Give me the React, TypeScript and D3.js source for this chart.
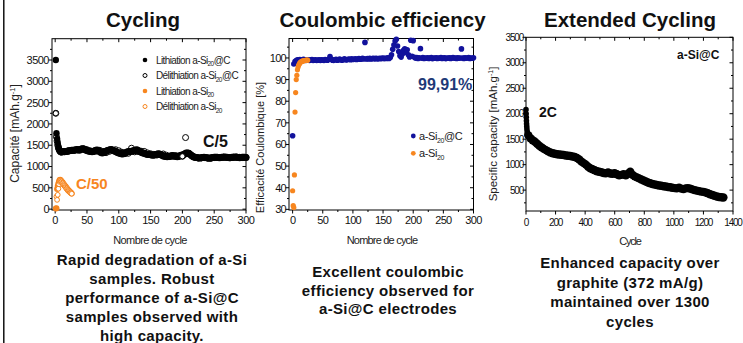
import React from 'react';
import * as d3 from 'd3';

const FONT = '"Liberation Sans", Arial, Helvetica, sans-serif';
const ORANGE = '#f7861f';
const BLUE = '#12129c';
const NAVY = '#1f3a78';

// ---- Cycling (left panel) ----
const headCycles = [1, 2, 3, 4, 5, 6, 7, 8, 9, 10];
const lithSiCHead = [3500, 1780, 1650, 1550, 1470, 1420, 1380, 1360, 1350, 1345];
// cycles 12..300, every 2 cycles
const lithSiCTail = [
  1345, 1350, 1355, 1350, 1360, 1370, 1375, 1380, 1385, 1380,
  1390, 1400, 1395, 1385, 1400, 1415, 1420, 1405, 1390, 1375,
  1365, 1360, 1350, 1345, 1355, 1370, 1385, 1390, 1370, 1350,
  1330, 1320, 1330, 1345, 1360, 1375, 1385, 1395, 1400, 1390,
  1375, 1360, 1345, 1330, 1320, 1310, 1300, 1295, 1305, 1320,
  1335, 1345, 1350, 1355, 1360, 1365, 1375, 1385, 1395, 1380,
  1360, 1345, 1330, 1320, 1310, 1300, 1290, 1285, 1280, 1275,
  1270, 1265, 1270, 1280, 1290, 1300, 1295, 1280, 1265, 1250,
  1240, 1235, 1230, 1235, 1240, 1250, 1260, 1255, 1245, 1235,
  1230, 1240, 1255, 1265, 1270, 1280, 1300, 1315, 1320, 1310,
  1290, 1265, 1240, 1225, 1215, 1210, 1205, 1200, 1200, 1205,
  1210, 1215, 1210, 1205, 1200, 1195, 1200, 1205, 1210, 1215,
  1220, 1215, 1210, 1205, 1210, 1215, 1220, 1225, 1220, 1215,
  1210, 1205, 1210, 1215, 1220, 1225, 1220, 1215, 1210, 1205,
  1210, 1215, 1220, 1215, 1210,
];
const delithSiCHead = [2250, 1700, 1600, 1500, 1440, 1400, 1370, 1350, 1340, 1335];
// cycles 15..300, every 5 cycles
const delithSiCTail = [
  1345, 1370, 1375, 1385, 1395, 1400, 1410, 1395, 1370, 1355,
  1360, 1380, 1355, 1325, 1355, 1380, 1395, 1370, 1335, 1305,
  1310, 1430, 1345, 1355, 1360, 1355, 1320, 1300, 1285, 1270,
  1280, 1295, 1265, 1235, 1240, 1255, 1240, 1240, 1680, 1310,
  1250, 1215, 1200, 1205, 1210, 1200, 1195, 1210, 1215, 1210,
  1220, 1215, 1205, 1215, 1225, 1215, 1210, 1215,
];
const lithSiCycles = d3.range(1, 27);
const lithSi = [15, 20, 470, 545, 600, 648, 682, 690, 672, 655, 632, 618, 590, 572, 556, 530, 518, 492, 476, 452, 441, 420, 412, 393, 382, 368];
const delithSiCycles = d3.range(2, 27);
const delithSi = [296, 218, 336, 480, 585, 640, 668, 660, 645, 622, 605, 582, 560, 545, 522, 505, 485, 465, 448, 430, 415, 402, 388, 375, 362];

const legend1 = [
  { pre: 'Lithiation a-Si', sub: '20', post: '@C', color: '#000', filled: true },
  { pre: 'Délithiation a-Si', sub: '20', post: '@C', color: '#000', filled: false },
  { pre: 'Lithiation a-Si', sub: '20', post: '', color: ORANGE, filled: true },
  { pre: 'Délithiation a-Si', sub: '20', post: '', color: ORANGE, filled: false },
];

// ---- Coulombic efficiency (middle panel) ----
// cycles 0..300, every 2 cycles
const ceSiC = [
  64,
  97.2, 98.3, 98.8, 99.2, 99.0, 99.3, 98.9, 99.1, 99.4, 99.0,
  98.9, 99.2, 99.0, 98.8, 99.1, 99.3, 98.9, 99.0, 99.2, 98.8,
  99.0, 99.1, 98.9, 99.2, 99.0, 98.9, 99.3, 99.1, 99.0, 99.4,
  100.6, 99.5, 99.0, 98.9, 99.2, 99.4, 99.0, 99.1, 99.5, 99.2,
  99.0, 99.3, 99.6, 99.2, 99.1, 99.4, 99.5, 99.2, 99.6, 99.3,
  99.4, 99.6, 99.3, 99.5, 99.7, 99.4, 99.5, 99.8, 99.6, 107.2,
  99.5, 99.7, 99.6, 99.8, 99.5, 99.7, 99.9, 99.6, 99.8, 99.7,
  99.6, 99.9, 99.7, 99.8, 100.0, 99.7, 99.9, 99.8, 100.1, 99.8,
  100.2, 101.5, 104.0, 106.0, 107.8, 108.6, 105.5, 103.0, 101.0, 100.4,
  101.8, 103.5, 104.2, 102.6, 103.8, 101.5, 100.5, 108.2, 100.8, 108.0,
  100.3, 99.9, 100.2, 99.8, 100.1, 104.3, 99.9, 100.2, 99.8, 100.0,
  99.9, 100.1, 99.8, 100.0, 100.2, 99.7, 100.0, 99.9, 100.1, 99.8,
  100.0, 99.9, 100.2, 99.8, 100.0, 100.1, 99.7, 100.0, 99.9, 100.1,
  99.8, 100.0, 100.2, 99.9, 100.0, 99.8, 100.1, 99.9, 100.0, 104.2,
  100.0, 99.8, 100.1, 99.9, 100.0, 100.2, 99.8, 100.0, 99.9, 100.1,
];
const ceSiCycles = d3.range(0, 26);
const ceSi = [38.6, 31.7, 30.8, 45.9, 75, 84, 90, 92, 94.5, 95.8, 96.6, 97.2, 97.7, 98, 98.2, 98.4, 98.5, 98.6, 98.7, 98.8, 98.8, 98.9, 98.9, 99, 99, 99];

// ---- Extended cycling (right panel) ----
const extHeadCycles = [0, 1, 2, 3, 4, 5, 6, 8, 10, 12];
const extHead = [2080, 2000, 1930, 1860, 1800, 1750, 1700, 1650, 1610, 1590];
// cycles 15..1335, every 15 cycles
const extTail = [
  1580, 1520, 1480, 1450, 1410, 1370, 1340, 1310, 1285, 1260,
  1240, 1225, 1215, 1205, 1200, 1195, 1190, 1180, 1175, 1170,
  1160, 1150, 1130, 1100, 1060, 1030, 1000, 960, 930, 910,
  890, 870, 860, 850, 835, 830, 845, 825, 820, 830,
  810, 790, 800, 810, 790, 820, 860, 800, 770, 750,
  730, 710, 690, 670, 650, 635, 620, 610, 600, 590,
  585, 575, 570, 560, 555, 545, 540, 535, 545, 530,
  520, 535, 540, 530, 515, 500, 490, 480, 470, 465,
  455, 440, 420, 405, 390, 375, 365, 360, 355,
];

const captions = [
  ['Rapid degradation of a-Si', 'samples. Robust', 'performance of a-Si@C', 'samples observed with', 'high capacity.'],
  ['Excellent coulombic', 'efficiency observed for', 'a-Si@C electrodes'],
  ['Enhanced capacity over', 'graphite (372 mA/g)', 'maintained over 1300', 'cycles'],
];

type Lin = d3.ScaleLinear<number, number>;

function Axes(props: {
  x: Lin; y: Lin; xTicks: number[]; xMinor: number[]; yTicks: number[]; yMinor: number[];
  fs: number; ls: number; xDy: number;
}) {
  const { x, y, xTicks, xMinor, yTicks, yMinor, fs, ls, xDy } = props;
  const [l, r] = x.range();
  const [b, t] = y.range();
  return (
    <g stroke="#000" strokeWidth={1}>
      <rect x={l} y={t} width={r - l} height={b - t} fill="none" />
      {xMinor.map(v => (
        <g key={'xm' + v}>
          <line x1={x(v)} x2={x(v)} y1={b} y2={b + 2} />
          <line x1={x(v)} x2={x(v)} y1={t} y2={t + 2} />
        </g>
      ))}
      {yMinor.map(v => (
        <g key={'ym' + v}>
          <line x1={l - 2} x2={l} y1={y(v)} y2={y(v)} />
          <line x1={r - 2} x2={r} y1={y(v)} y2={y(v)} />
        </g>
      ))}
      {xTicks.map(v => (
        <g key={'xt' + v}>
          <line x1={x(v)} x2={x(v)} y1={b} y2={b + 3.5} />
          <line x1={x(v)} x2={x(v)} y1={t} y2={t + 3.5} />
          <text x={x(v)} y={b + xDy} textAnchor="middle" fontSize={fs} letterSpacing={ls} stroke="none" fill="#111">{v}</text>
        </g>
      ))}
      {yTicks.map(v => (
        <g key={'yt' + v}>
          <line x1={l - 3.5} x2={l} y1={y(v)} y2={y(v)} />
          <line x1={r - 3.5} x2={r} y1={y(v)} y2={y(v)} />
          <text x={l - 3} y={y(v)} dy="0.36em" textAnchor="end" fontSize={fs} letterSpacing={ls} stroke="none" fill="#111">{v}</text>
        </g>
      ))}
    </g>
  );
}

function Caption({ lines, cx, y0, step }: { lines: string[]; cx: number; y0: number; step: number }) {
  return (
    <text textAnchor="middle" fontSize={15} fontWeight="bold" letterSpacing={0.35} fill="#111">
      {lines.map((s, i) => (
        <tspan key={i} x={cx} y={y0 + i * step}>{s}</tspan>
      ))}
    </text>
  );
}

function CyclingPanel() {
  const x = d3.scaleLinear().domain([-5, 300]).range([52, 246]);
  const y = d3.scaleLinear().domain([-20, 4000]).range([210, 38.7]);
  const tailCycles = d3.range(12, 301, 2);
  const delTailCycles = d3.range(15, 301, 5);
  return (
    <g>
      <text x={143} y={27} textAnchor="middle" fontSize={20.5} fontWeight="bold" fill="#111">Cycling</text>
      <Axes x={x} y={y} xTicks={d3.range(0, 301, 50)} xMinor={d3.range(25, 300, 50)}
        yTicks={d3.range(0, 3501, 500)} yMinor={d3.range(250, 3900, 500)} fs={11} ls={-0.5} xDy={14} />
      {delithSiCTail.map((v, i) => (
        <circle key={'dt' + i} cx={x(delTailCycles[i])} cy={y(v)} r={3} fill="#fff" stroke="#000" strokeWidth={1} />
      ))}
      {delithSiCHead.map((v, i) => (
        <circle key={'dh' + i} cx={x(headCycles[i])} cy={y(v)} r={3} fill="#fff" stroke="#000" strokeWidth={1} />
      ))}
      {lithSiCTail.map((v, i) => (
        <circle key={'lt' + i} cx={x(tailCycles[i])} cy={y(v)} r={3.5} fill="#000" />
      ))}
      {lithSiCHead.map((v, i) => (
        <circle key={'lh' + i} cx={x(headCycles[i])} cy={y(v)} r={3.2} fill="#000" />
      ))}
      {lithSi.map((v, i) => (
        <circle key={'ls' + i} cx={x(lithSiCycles[i])} cy={y(v)} r={3} fill={ORANGE} />
      ))}
      {delithSi.map((v, i) => (
        <circle key={'ds' + i} cx={x(delithSiCycles[i])} cy={y(v)} r={2.4} fill="#fff" stroke={ORANGE} strokeWidth={1} />
      ))}
      {/* delith outliers drawn on top */}
      <circle cx={x(headCycles[0])} cy={y(delithSiCHead[0])} r={2.6} fill="#fff" stroke="#000" strokeWidth={1} />
      <circle cx={x(delTailCycles[37])} cy={y(delithSiCTail[37])} r={2.6} fill="#fff" stroke="#000" strokeWidth={1} />
      {legend1.map((d, i) => (
        <g key={'lg' + i}>
          {d.filled
            ? <circle cx={145} cy={60 + i * 15.5} r={2.3} fill={d.color} />
            : <circle cx={145} cy={60 + i * 15.5} r={2} fill="#fff" stroke={d.color} strokeWidth={1} />}
          <text x={156} y={63.5 + i * 15.5} fontSize={10} letterSpacing={-0.6} fill="#222">
            <tspan>{d.pre}</tspan>
            <tspan dy={2.5} fontSize={6.5}>{d.sub}</tspan>
            <tspan dy={-2.5}>{d.post}</tspan>
          </text>
        </g>
      ))}
      <text x={203} y={147} fontSize={16} fontWeight="bold" fill="#111">C/5</text>
      <text x={76} y={188.5} fontSize={15} fontWeight="bold" fill={ORANGE}>C/50</text>
      <text transform="translate(19,133.5) rotate(-90)" textAnchor="middle" fontSize={12} fill="#222">
        <tspan>Capacité [mAh.g</tspan>
        <tspan dy={-4} fontSize={7.5}>-1</tspan>
        <tspan dy={4}>]</tspan>
      </text>
      <text x={150} y={244} textAnchor="middle" fontSize={11} letterSpacing={-0.6} fill="#222">Nombre de cycle</text>
      <Caption lines={captions[0]} cx={152} y0={265} step={19.1} />
    </g>
  );
}

function CoulombPanel() {
  const x = d3.scaleLinear().domain([-6, 300]).range([289, 473.5]);
  const y = d3.scaleLinear().domain([29.7, 109]).range([210, 38.5]);
  const cyc = d3.range(0, 301, 2);
  return (
    <g>
      <text x={382.5} y={27} textAnchor="middle" fontSize={20.5} fontWeight="bold" fill="#111">Coulombic efficiency</text>
      <Axes x={x} y={y} xTicks={d3.range(0, 301, 50)} xMinor={d3.range(25, 300, 50)}
        yTicks={d3.range(30, 101, 10)} yMinor={d3.range(35, 106, 10)} fs={11} ls={-0.7} xDy={14} />
      {ceSiC.map((v, i) => (
        <circle key={'b' + i} cx={x(cyc[i])} cy={y(v)} r={2.8} fill={BLUE} />
      ))}
      {ceSi.map((v, i) => (
        <circle key={'o' + i} cx={x(ceSiCycles[i])} cy={y(v)} r={2.6} fill={ORANGE} />
      ))}
      <text x={418} y={89.5} fontSize={16} fontWeight="bold" fill={NAVY}>99,91%</text>
      <circle cx={413.3} cy={136} r={2.4} fill={BLUE} />
      <circle cx={413.3} cy={153.3} r={2.4} fill={ORANGE} />
      <text x={419} y={140} fontSize={11} letterSpacing={-0.4} fill="#222">
        <tspan>a-Si</tspan><tspan dy={2.5} fontSize={7}>20</tspan><tspan dy={-2.5}>@C</tspan>
      </text>
      <text x={419} y={157.3} fontSize={11} letterSpacing={-0.4} fill="#222">
        <tspan>a-Si</tspan><tspan dy={2.5} fontSize={7}>20</tspan>
      </text>
      <text transform="translate(264,147.5) rotate(-90)" textAnchor="middle" fontSize={11} fill="#222">Efficacité Coulombique [%]</text>
      <text x={382} y={244} textAnchor="middle" fontSize={11} letterSpacing={-0.8} fill="#222">Nombre de cycle</text>
      <Caption lines={captions[1]} cx={388} y0={277} step={18.7} />
    </g>
  );
}

function ExtendedPanel() {
  const x = d3.scaleLinear().domain([0, 1400]).range([526, 733]);
  const y = d3.scaleLinear().domain([90, 3500]).range([211, 37.3]);
  const tailCycles = d3.range(15, 1336, 15);
  return (
    <g>
      <text x={630} y={27} textAnchor="middle" fontSize={20.5} fontWeight="bold" fill="#111">Extended Cycling</text>
      <Axes x={x} y={y} xTicks={d3.range(0, 1401, 200)} xMinor={d3.range(100, 1400, 200)}
        yTicks={d3.range(500, 3501, 500)} yMinor={d3.range(250, 3400, 500)} fs={10} ls={-1.2} xDy={14.5} />
      {extTail.map((v, i) => (
        <circle key={'e' + i} cx={x(tailCycles[i])} cy={y(v)} r={4.2} fill="#000" />
      ))}
      {extHead.map((v, i) => (
        <circle key={'eh' + i} cx={x(extHeadCycles[i])} cy={y(v)} r={2.8} fill="#000" />
      ))}
      <text x={677} y={58.5} fontSize={12} fontWeight="bold" fill="#111">a-Si@C</text>
      <text x={539} y={117} fontSize={14} fontWeight="bold" fill="#111">2C</text>
      <text transform="translate(497,134) rotate(-90)" textAnchor="middle" fontSize={11.5} fill="#222">
        <tspan>Specific capacity [mAh.g</tspan>
        <tspan dy={-4} fontSize={7}>-1</tspan>
        <tspan dy={4}>]</tspan>
      </text>
      <text x={630} y={245} textAnchor="middle" fontSize={11} letterSpacing={-1.2} fill="#222">Cycle</text>
      <Caption lines={captions[2]} cx={630} y0={268} step={19.5} />
    </g>
  );
}

export default function App() {
  return (
    <svg width={743} height={343} fontFamily={FONT}
      style={{ position: 'absolute', left: 0, top: 0, display: 'block', background: '#fff' }}>
      <rect width={743} height={343} fill="#fff" />
      <line x1={3.8} x2={3.8} y1={0} y2={343} stroke="#000" strokeWidth={1.4} />
      <CyclingPanel />
      <CoulombPanel />
      <ExtendedPanel />
    </svg>
  );
}
